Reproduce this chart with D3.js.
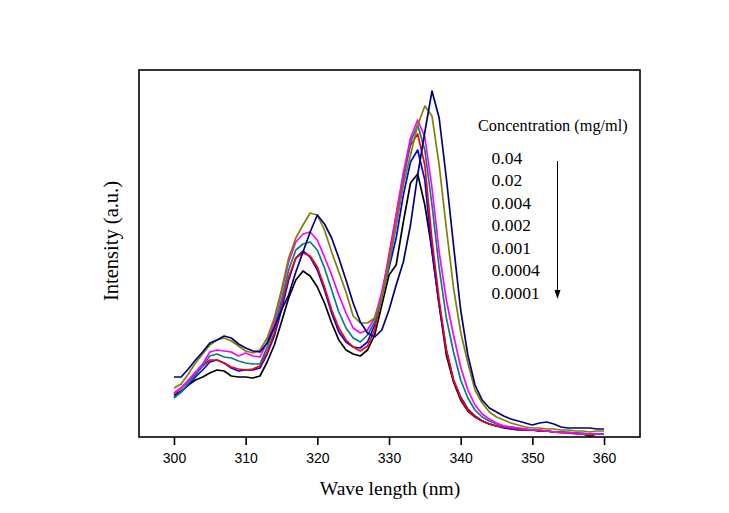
<!DOCTYPE html>
<html><head><meta charset="utf-8">
<script src="https://cdn.jsdelivr.net/npm/d3@7/dist/d3.min.js"></script>
<style>body{margin:0;background:#fff}</style>
</head><body>
<svg id="c" width="729" height="513"></svg>
<script>
const wavelengths = [300,301,302,303,304,305,306,307,308,309,310,311,312,313,314,315,316,317,318,319,320,
  321,322,323,324,325,326,327,328,329,330,331,332,333,334,335,336,337,338,339,340,
  341,342,343,344,345,346,347,348,349,350,351,352,353,354,355,356,357,358,359,360];

const c004 = [60,60,68,77,85,94,97,101,99,93,89,86,85,94,110,127,142,165,185,205,222,
  213,199,179,157,134,115,104,100,107,127,152,175,212,262,305,346,319,259,192,127,
  82,52,37,29,25,21,18,16,14,12,14,15,13,10,9,9,9,9,8,8];
const c002 = [49,53,63,74,83,92,97,99,96,91,86,84,87,99,119,147,179,199,212,224,222,
  207,185,165,145,121,114,114,119,139,175,212,252,282,312,331,321,272,209,149,105,
  74,47,34,25,20,17,14,12,10,9,9,8,8,7,7,6,6,5,6,6];
const c0004 = [43,49,57,65,73,85,87,86,85,81,84,81,80,95,115,145,175,195,203,205,197,
  180,162,142,124,109,104,107,119,145,179,222,264,299,317,300,249,185,137,102,70,
  47,32,23,18,14,11,10,9,8,7,7,6,5,5,4,4,3,3,3,3];
const c0002 = [39,45,54,62,71,81,83,80,79,76,74,73,73,90,109,137,167,187,193,195,187,
  169,147,125,109,99,95,102,115,139,172,212,257,295,312,287,232,169,119,85,57,
  39,27,20,16,13,11,10,9,8,7,7,6,5,5,5,4,4,3,3,3];
const c0001 = [44,49,56,63,71,77,77,74,70,68,67,68,71,85,104,132,160,179,184,181,170,
  150,127,109,97,90,86,91,107,142,182,222,262,292,303,272,197,137,87,57,39,
  27,20,16,13,11,10,9,8,7,7,6,6,5,4,4,3,3,2,3,3];
const c00004 = [40,45,52,60,67,75,77,74,69,66,67,67,69,83,101,127,157,179,186,180,167,
  147,124,105,95,90,89,95,112,142,169,199,242,275,287,257,185,132,87,57,40,
  28,21,16,13,11,9,8,7,7,7,6,6,5,5,4,4,3,3,3,3];
const c00001 = [42,46,52,57,60,64,67,66,61,60,60,59,61,75,92,115,139,157,166,161,150,
  134,114,97,87,83,81,87,102,132,162,172,215,254,263,232,187,132,82,55,37,
  26,20,16,13,11,10,9,8,7,7,6,6,5,5,4,4,3,1,3,3];

const seriesNames = ["0.04","0.02","0.004","0.002","0.001","0.0004","0.0001"];
const seriesValues = [c004, c002, c0004, c0002, c0001, c00004, c00001];
const seriesColors = ["#000080","#808000","#ff00ff","#008080","#ff0000","#0000ff","#000000"];

const xTicks = [300,310,320,330,340,350,360];
const legendTitle = "Concentration (mg/ml)";
const xTitle = "Wave length (nm)";
const yTitle = "Intensity (a.u.)";

const svg = d3.select("#c");
const L = 139, T = 70, W = 501, H = 367;

const x = d3.scaleLinear().domain([295.12, 365.02]).range([L, L + W]);
const y = d3.scaleLinear().domain([0, 367]).range([T + H, T]);

svg.append("rect").attr("width",729).attr("height",513).attr("fill","#fff");

// lines (draw lowest first, strongest last)
const line = d3.line().x((d,i)=>x(wavelengths[i])).y(d=>y(d));
const order = [6,5,4,3,2,1,0];
svg.append("g").selectAll("path").data(order).join("path")
  .attr("d", i => line(seriesValues[i]))
  .attr("fill","none")
  .attr("stroke", i => seriesColors[i])
  .attr("stroke-width", 1.7)
  .attr("stroke-linejoin","round");

// frame
svg.append("rect").attr("x",L).attr("y",T).attr("width",W).attr("height",H)
  .attr("fill","none").attr("stroke","#000").attr("stroke-width",1.6);

// x axis
const ax = svg.append("g").attr("transform",`translate(0,${T+H})`)
  .call(d3.axisBottom(x).tickValues(xTicks).tickSize(8).tickPadding(8).tickFormat(d3.format("d")));
ax.select(".domain").remove();
ax.selectAll(".tick line").attr("stroke","#000").attr("stroke-width",1.6);
ax.selectAll(".tick text").attr("font-family","'Liberation Sans', Arial, sans-serif")
  .attr("font-size",14).attr("fill","#000");

// titles
svg.append("text").attr("x",390).attr("y",495).attr("text-anchor","middle")
  .attr("font-family","'Liberation Serif','Times New Roman',serif").attr("font-size",19.5)
  .text(xTitle);
svg.append("text").attr("transform","translate(118,241) rotate(-90)").attr("text-anchor","middle")
  .attr("font-family","'Liberation Serif','Times New Roman',serif").attr("font-size",20.5)
  .text(yTitle);

// legend
svg.append("text").attr("x",478).attr("y",131)
  .attr("font-family","'Liberation Serif','Times New Roman',serif").attr("font-size",16.3)
  .text(legendTitle);
svg.append("g").selectAll("text").data(seriesNames).join("text")
  .attr("x",491.5).attr("y",(d,i)=>163.5 + i*22.5)
  .attr("font-family","'Liberation Serif','Times New Roman',serif").attr("font-size",17.5)
  .text(d=>d);
svg.append("line").attr("x1",557.5).attr("x2",557.5).attr("y1",161).attr("y2",292)
  .attr("stroke","#000").attr("stroke-width",1);
svg.append("path").attr("d","M554.5,290 L560.5,290 L557.5,299 Z").attr("fill","#000");
</script>
</body></html>
